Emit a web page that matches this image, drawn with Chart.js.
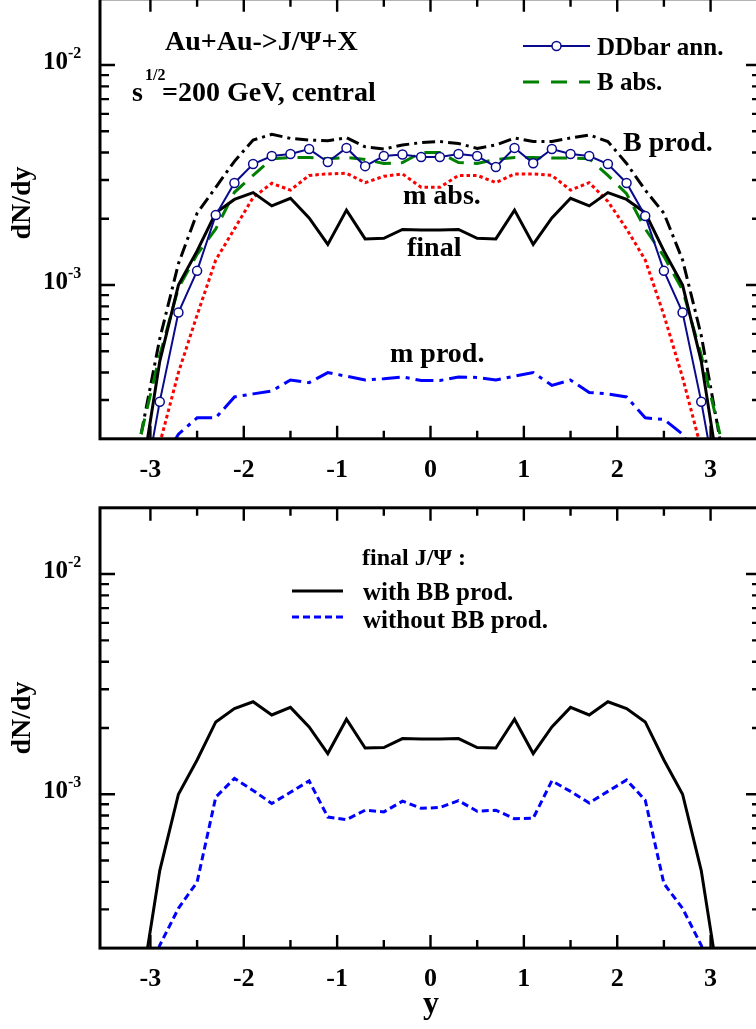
<!DOCTYPE html>
<html>
<head>
<meta charset="utf-8">
<script src="https://cdn.jsdelivr.net/npm/chart.js@4.4.0/dist/chart.umd.min.js"></script>
<style>
html, body { margin: 0; padding: 0; background: #fff; overflow: hidden; width: 756px; height: 1029px; }
canvas { position: absolute; left: 0; }
#topChart { top: -10px; width: 780px; height: 520px; }
#botChart { top: 490px; width: 780px; height: 539px; }
</style>
</head>
<body>
<canvas id="topChart" width="780" height="520"></canvas>
<canvas id="botChart" width="780" height="539"></canvas>
<script>
// rapidity grid of the calculation
const rapidity = [-3.1, -2.9, -2.7, -2.5, -2.3, -2.1, -1.9, -1.7, -1.5, -1.3, -1.1, -0.9, -0.7, -0.5, -0.3, -0.1,
                  0.1, 0.3, 0.5, 0.7, 0.9, 1.1, 1.3, 1.5, 1.7, 1.9, 2.1, 2.3, 2.5, 2.7, 2.9, 3.1];

// upper panel
const ddbarAnn = [1.0e-4, 2.95e-4, 7.5e-4, 1.16e-3, 2.08e-3, 2.91e-3, 3.55e-3, 3.86e-3, 3.94e-3, 4.15e-3, 3.62e-3, 4.20e-3, 3.47e-3, 3.86e-3, 3.92e-3, 3.82e-3,
                  3.82e-3, 3.94e-3, 3.86e-3, 3.44e-3, 4.20e-3, 3.58e-3, 4.15e-3, 3.94e-3, 3.86e-3, 3.55e-3, 2.91e-3, 2.06e-3, 1.16e-3, 7.5e-4, 2.95e-4, 1.0e-4];
const bAbs = [2.1e-4, 4.8e-4, 9.7e-4, 1.38e-3, 1.8e-3, 2.64e-3, 3.15e-3, 3.75e-3, 3.8e-3, 3.8e-3, 3.75e-3, 3.8e-3, 3.72e-3, 3.57e-3, 3.6e-3, 4.0e-3,
              4.0e-3, 3.6e-3, 3.57e-3, 3.72e-3, 3.8e-3, 3.8e-3, 3.78e-3, 3.78e-3, 3.75e-3, 3.15e-3, 2.6e-3, 1.8e-3, 1.35e-3, 9.5e-4, 4.8e-4, 2.1e-4];
const bProd = [2.1e-4, 5.7e-4, 1.25e-3, 2.12e-3, 2.78e-3, 3.65e-3, 4.56e-3, 4.84e-3, 4.64e-3, 4.56e-3, 4.53e-3, 4.67e-3, 4.25e-3, 4.15e-3, 4.33e-3, 4.44e-3,
               4.49e-3, 4.4e-3, 4.18e-3, 4.33e-3, 4.66e-3, 4.49e-3, 4.49e-3, 4.66e-3, 4.81e-3, 4.49e-3, 3.57e-3, 2.7e-3, 2.12e-3, 1.3e-3, 5.9e-4, 2.0e-4];
const mAbs = [7e-5, 1.9e-4, 4.0e-4, 7.3e-4, 1.3e-3, 1.8e-3, 2.5e-3, 2.9e-3, 2.7e-3, 3.15e-3, 3.2e-3, 3.22e-3, 2.92e-3, 3.12e-3, 3.2e-3, 2.78e-3,
              2.78e-3, 3.15e-3, 3.15e-3, 2.92e-3, 3.2e-3, 3.2e-3, 3.15e-3, 2.7e-3, 2.92e-3, 2.4e-3, 1.8e-3, 1.3e-3, 7.3e-4, 3.8e-4, 1.8e-4, 7e-5];
const mProd = [1.0e-4, 1.5e-4, 2.1e-4, 2.49e-4, 2.49e-4, 3.1e-4, 3.2e-4, 3.3e-4, 3.7e-4, 3.6e-4, 4.0e-4, 3.85e-4, 3.7e-4, 3.75e-4, 3.82e-4, 3.68e-4,
               3.68e-4, 3.82e-4, 3.8e-4, 3.7e-4, 3.85e-4, 4.0e-4, 3.5e-4, 3.7e-4, 3.25e-4, 3.2e-4, 3.1e-4, 2.49e-4, 2.45e-4, 2.1e-4, 1.5e-4, 1.0e-4];

// final J/Psi, used in both panels
const finalWithBB = [1.3e-4, 4.5e-4, 1.0e-3, 1.43e-3, 2.13e-3, 2.45e-3, 2.63e-3, 2.29e-3, 2.48e-3, 2.02e-3, 1.53e-3, 2.19e-3, 1.62e-3, 1.63e-3, 1.79e-3, 1.78e-3,
                     1.78e-3, 1.79e-3, 1.63e-3, 1.62e-3, 2.19e-3, 1.53e-3, 2.02e-3, 2.48e-3, 2.29e-3, 2.63e-3, 2.45e-3, 2.13e-3, 1.43e-3, 1.0e-3, 4.5e-4, 1.3e-4];
const finalWithoutBB = [1.16e-4, 2.06e-4, 3.03e-4, 3.99e-4, 9.7e-4, 1.18e-3, 1.04e-3, 9.08e-4, 1.02e-3, 1.15e-3, 7.88e-4, 7.67e-4, 8.46e-4, 8.31e-4, 9.3e-4, 8.63e-4,
                        8.7e-4, 9.35e-4, 8.37e-4, 8.46e-4, 7.74e-4, 7.78e-4, 1.15e-3, 1.03e-3, 9.13e-4, 1.03e-3, 1.16e-3, 9.4e-4, 3.93e-4, 3.03e-4, 2.06e-4, 1.16e-4];

// axes
const xMajorTicks = [-3, -2, -1, 0, 1, 2, 3];
const xMinorTicks = [-2.5, -1.5, -0.5, 0.5, 1.5, 2.5];
const yMajorTicks = [1e-3, 1e-2];
const yMajorExp = ['-3', '-2'];
const yMinorTicks = [3e-4, 4e-4, 5e-4, 6e-4, 7e-4, 8e-4, 9e-4, 2e-3, 3e-3, 4e-3, 5e-3, 6e-3, 7e-3, 8e-3, 9e-3];

const NAVY = '#0a0a8c';
const serif = '"Liberation Serif", "Times New Roman", serif';
const font = s => 'bold ' + s + 'px ' + serif;

function pts(values) {
    return values.map((v, i) => ({ x: rapidity[i], y: v }));
}

function line(label, values, color, width, dash) {
    return {
        label: label,
        data: pts(values),
        borderColor: color,
        borderWidth: width,
        borderDash: dash,
        pointRadius: 0,
        fill: false,
        tension: 0
    };
}

function makeDecor(canvasTop, yTitleCenter, extras) {
    return {
        id: 'decor',
        afterDraw(chart) {
            const { ctx, chartArea: a } = chart;
            const x = chart.scales.x, y = chart.scales.y;
            const Y = p => p - canvasTop;
            ctx.save();
            ctx.strokeStyle = '#000';
            ctx.fillStyle = '#000';
            ctx.lineWidth = 2.4;
            ctx.beginPath();
            const tickX = (v, len) => {
                const p = x.getPixelForValue(v);
                ctx.moveTo(p, a.bottom); ctx.lineTo(p, a.bottom - len);
                ctx.moveTo(p, a.top); ctx.lineTo(p, a.top + len);
            };
            const tickY = (v, len) => {
                const p = y.getPixelForValue(v);
                ctx.moveTo(a.left, p); ctx.lineTo(a.left + len, p);
                ctx.moveTo(a.right, p); ctx.lineTo(a.right - len, p);
            };
            xMajorTicks.forEach(v => tickX(v, 13));
            xMinorTicks.forEach(v => tickX(v, 8));
            yMajorTicks.forEach(v => tickY(v, 15));
            yMinorTicks.forEach(v => tickY(v, 9));
            ctx.stroke();
            ctx.lineWidth = 3;
            ctx.strokeRect(a.left, a.top, a.right - a.left, a.bottom - a.top);

            // tick labels
            ctx.textBaseline = 'alphabetic';
            ctx.font = font(26);
            ctx.textAlign = 'center';
            xMajorTicks.forEach(v => ctx.fillText(String(v), x.getPixelForValue(v), a.bottom + 38));
            yMajorTicks.forEach((v, i) => {
                const p = y.getPixelForValue(v);
                ctx.font = font(25);
                ctx.textAlign = 'right';
                ctx.fillText('10', 68, p + 4);
                ctx.font = font(16);
                ctx.textAlign = 'left';
                ctx.fillText(yMajorExp[i], 68, p - 7);
            });

            // y title
            ctx.save();
            ctx.translate(30, Y(yTitleCenter));
            ctx.rotate(-Math.PI / 2);
            ctx.font = font(28);
            ctx.textAlign = 'center';
            ctx.fillText('dN/dy', 0, 0);
            ctx.restore();

            extras(ctx, Y);
            ctx.restore();
        }
    };
}

function text(ctx, s, x, y, size) {
    ctx.font = font(size);
    ctx.textAlign = 'left';
    ctx.fillText(s, x, y);
}

function sample(ctx, x1, x2, y, color, width, dash) {
    ctx.save();
    ctx.strokeStyle = color;
    ctx.lineWidth = width;
    ctx.setLineDash(dash);
    ctx.beginPath();
    ctx.moveTo(x1, y);
    ctx.lineTo(x2, y);
    ctx.stroke();
    ctx.restore();
}

const baseOptions = (pad) => ({
    responsive: false,
    maintainAspectRatio: false,
    animation: false,
    layout: { padding: pad },
    plugins: { legend: { display: false }, tooltip: { enabled: false } },
    scales: {
        x: { type: 'linear', min: -3.54, max: 3.54, display: false },
        y: { type: 'logarithmic', min: 2e-4, max: 2e-2, display: false }
    }
});

const ddbarSet = line('DDbar ann.', ddbarAnn, NAVY, 2, []);
ddbarSet.pointRadius = 4.5;
ddbarSet.pointBorderWidth = 1.5;
ddbarSet.pointBackgroundColor = '#fff';
ddbarSet.pointBorderColor = NAVY;

new Chart(document.getElementById('topChart'), {
    type: 'line',
    data: {
        datasets: [
            ddbarSet,
            line('final', finalWithBB, '#000', 3, []),
            line('B abs.', bAbs, '#008000', 3, [16, 10]),
            line('B prod.', bProd, '#000', 3, [13, 5, 3, 5]),
            line('m abs.', mAbs, '#ff0000', 3, [3.5, 3]),
            line('m prod.', mProd, '#0000ff', 3, [18, 6, 4, 6])
        ]
    },
    options: baseOptions({ left: 100, right: 19, top: 8.8, bottom: 71.2 }),
    plugins: [makeDecor(-10, 203, (ctx, Y) => {
        text(ctx, 'Au+Au->J/\u03A8+X', 165, Y(50), 28);
        text(ctx, 's', 132, Y(101), 28);
        text(ctx, '1/2', 145, Y(80), 16);
        text(ctx, '=200 GeV, central', 162, Y(101), 28);

        sample(ctx, 523, 590, Y(46), NAVY, 2, []);
        ctx.save();
        ctx.beginPath();
        ctx.arc(556.5, Y(46), 4.5, 0, Math.PI * 2);
        ctx.fillStyle = '#fff';
        ctx.fill();
        ctx.lineWidth = 1.5;
        ctx.strokeStyle = NAVY;
        ctx.stroke();
        ctx.restore();
        text(ctx, 'DDbar ann.', 597, Y(55), 25);
        sample(ctx, 523, 590, Y(82), '#008000', 3, [16, 12]);
        text(ctx, 'B abs.', 597, Y(90), 25);

        text(ctx, 'B prod.', 623, Y(151), 28);
        text(ctx, 'm abs.', 403, Y(204), 28);
        text(ctx, 'final', 407, Y(256), 28);
        text(ctx, 'm prod.', 390, Y(362), 28);
    })]
});

new Chart(document.getElementById('botChart'), {
    type: 'line',
    data: {
        datasets: [
            line('with BB prod.', finalWithBB, '#000', 3, []),
            line('without BB prod.', finalWithoutBB, '#0000ff', 3, [7, 4])
        ]
    },
    options: baseOptions({ left: 100, right: 19, top: 17.8, bottom: 80.9 }),
    plugins: [makeDecor(490, 718, (ctx, Y) => {
        text(ctx, 'final J/\u03A8 :', 362, Y(565), 24);
        sample(ctx, 292, 343, Y(591), '#000', 3, []);
        text(ctx, 'with BB prod.', 363, Y(600), 25);
        sample(ctx, 292, 343, Y(617), '#0000ff', 3, [7, 4]);
        text(ctx, 'without BB prod.', 363, Y(628), 25);
        ctx.font = font(32);
        ctx.textAlign = 'center';
        ctx.fillText('y', 431, Y(1013));
    })]
});
</script>
</body>
</html>
